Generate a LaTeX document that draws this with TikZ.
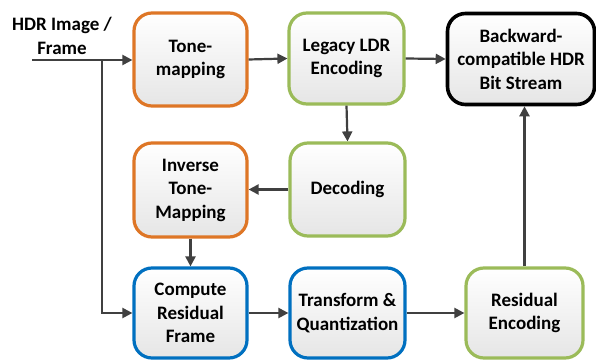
\documentclass[tikz,border=0pt]{standalone}
\usepackage{fontspec}
\setmainfont{Carlito}
\usetikzlibrary{arrows.meta}
\definecolor{orangeb}{RGB}{222,118,38}
\definecolor{greenb}{RGB}{155,187,89}
\definecolor{blueb}{RGB}{0,112,192}
\definecolor{arrowc}{RGB}{64,64,64}
\tikzset{
  blk/.style={rounded corners=18pt, line width=3.2pt, top color=white, bottom color=black!10,
    align=center, font=\fontsize{19}{23.5}\selectfont\bfseries, inner sep=0pt},
  orangebox/.style={blk, draw=orangeb},
  greenbox/.style={blk, draw=greenb},
  bluebox/.style={blk, draw=blueb},
  blackbox/.style={blk, draw=black, line width=3.6pt},
  arr/.style={draw=arrowc, line width=2.2pt, -{Triangle[length=10pt,width=10pt]}},
  lbl/.style={align=center, font=\fontsize{19}{23.5}\selectfont\bfseries, inner sep=0pt}
}
\begin{document}
\begin{tikzpicture}[x=1pt,y=-1pt]
\useasboundingbox[fill=white] (0,0) rectangle (596,363);
\node[orangebox, minimum width=113pt, minimum height=93pt] (tone) at (190.5,59.5) {Tone-\\mapping};
\node[greenbox, minimum width=115pt, minimum height=91pt] (legacy) at (346.5,58.5) {Legacy LDR\\Encoding};
\node[blackbox, minimum width=147pt, minimum height=91pt] (back) at (521,59) {Backward-\\compatible HDR\\Bit Stream};
\node[orangebox, minimum width=113pt, minimum height=94pt] (inv) at (190.5,190) {Inverse\\Tone-\\Mapping};
\node[greenbox, minimum width=115pt, minimum height=93pt] (dec) at (347.5,189.5) {Decoding};
\node[bluebox, minimum width=113pt, minimum height=90pt] (comp) at (190.5,313) {Compute\\Residual\\Frame};
\node[bluebox, minimum width=115pt, minimum height=90pt] (trans) at (347.5,313) {Transform \&\\Quantization};
\node[greenbox, minimum width=117pt, minimum height=90pt] (resid) at (524.5,313) {Residual\\Encoding};
\node[lbl] (hdr) at (62,36) {HDR Image /\\Frame};
\coordinate (in) at (32,60);
\coordinate (br) at (102,60);
\draw[arr] (in) -- (tone.west |- in);
\draw[arr] (br) |- (comp.west);
\draw[arr] (tone.east) -- (legacy.west);
\draw[arr] (legacy.east) -- (back.west);
\draw[arr] (legacy.south) -- (dec.north);
\draw[arr] (dec.west) -- (inv.east |- dec.west);
\draw[arr] (inv.south) -- (comp.north);
\draw[arr] (comp.east) -- (trans.west);
\draw[arr] (trans.east) -- (resid.west);
\draw[arr] (resid.north) -- (resid.north |- back.south);
\end{tikzpicture}
\end{document}
